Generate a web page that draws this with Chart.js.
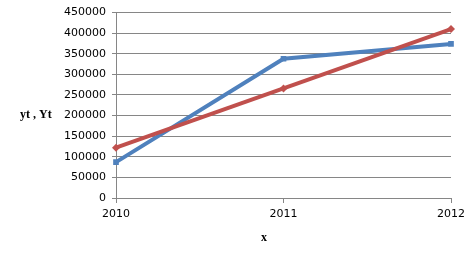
<!DOCTYPE html>
<html>
<head>
<meta charset="utf-8">
<script src="https://cdn.jsdelivr.net/npm/chart.js@4/dist/chart.umd.min.js"></script>
<style>
  html, body { margin: 0; padding: 0; background: #fff; }
  #wrap { width: 475px; height: 265px; position: relative; }
</style>
</head>
<body>
<div id="wrap"><canvas id="chart"></canvas></div>
<script>
// chart data
var years = ['2010', '2011', '2012'];
var ytValues = [87000, 338000, 374000];   // actual
var YtValues = [122000, 266000, 410000];  // trend
var yTicks = [0, 50000, 100000, 150000, 200000, 250000, 300000, 350000, 400000, 450000];

var gridGray = '#868686';

// axis titles are horizontal text, drawn by hand
var axisTitles = {
    id: 'axisTitles',
    afterDraw: function (chart) {
        var ctx = chart.ctx;
        ctx.save();
        ctx.fillStyle = '#000';
        ctx.font = 'bold 12px "Liberation Serif", serif';
        ctx.textBaseline = 'middle';
        ctx.textAlign = 'left';
        ctx.fillText('yt , Yt', 20, 115);
        ctx.textAlign = 'center';
        ctx.fillText('x', 264, 238);
        ctx.restore();
    }
};

var ctx = document.getElementById('chart').getContext('2d');
var chart = new Chart(ctx, {
    type: 'line',
    data: {
        labels: years,
        datasets: [{
            label: 'yt',
            data: ytValues,
            borderColor: '#4f81bd',
            backgroundColor: '#4f81bd',
            borderWidth: 4,
            pointStyle: 'rect',
            pointRadius: 4,
            pointBorderWidth: 0,
            tension: 0,
            order: 2
        }, {
            label: 'Yt',
            data: YtValues,
            borderColor: '#c0504d',
            backgroundColor: '#c0504d',
            borderWidth: 4,
            pointStyle: 'rectRot',
            pointRadius: 4,
            pointBorderWidth: 0,
            tension: 0,
            order: 1
        }]
    },
    options: {
        responsive: true,
        maintainAspectRatio: false,
        animation: false,
        layout: {
            padding: { left: 0, right: 24, top: 12, bottom: 0 }
        },
        plugins: {
            legend: { display: false },
            tooltip: { enabled: false }
        },
        scales: {
            x: {
                offset: false,
                grid: {
                    drawOnChartArea: false,
                    color: gridGray,
                    tickLength: 5
                },
                border: { color: gridGray },
                ticks: {
                    color: '#000',
                    font: { family: '"DejaVu Sans", Verdana, sans-serif', size: 11 },
                    padding: 5,
                    maxRotation: 0
                },
                afterFit: function (scale) { scale.height = 67; }
            },
            y: {
                min: 0,
                max: 450000,
                grid: {
                    color: gridGray,
                    tickLength: 4
                },
                border: { color: gridGray },
                afterBuildTicks: function (scale) {
                    scale.ticks = yTicks.map(function (v) { return { value: v }; });
                },
                ticks: {
                    color: '#000',
                    font: { family: '"DejaVu Sans", Verdana, sans-serif', size: 11 },
                    padding: 6,
                    callback: function (v) { return String(v); }
                },
                afterFit: function (scale) { scale.width = 116; }
            }
        }
    },
    plugins: [axisTitles]
});
</script>
</body>
</html>
